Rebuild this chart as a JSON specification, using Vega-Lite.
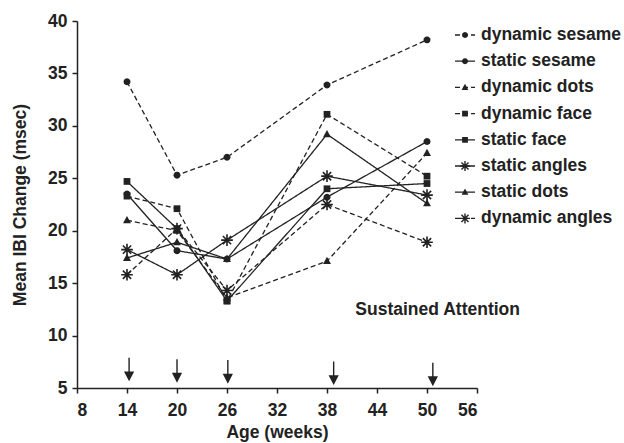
{
  "$schema": "https://vega.github.io/schema/vega-lite/v6.json",
  "width": 400,
  "height": 367,
  "autosize": {"type": "none"},
  "padding": {"left": 77, "top": 21, "right": 147, "bottom": 55},
  "background": "white",
  "config": {
    "font": "Liberation Sans",
    "view": {"stroke": null},
    "axis": {
      "grid": false,
      "domainColor": "#222",
      "domainWidth": 1.5,
      "tickColor": "#222",
      "tickWidth": 1.5,
      "tickSize": 5,
      "labelFont": "Liberation Sans",
      "labelFontWeight": "bold",
      "labelFontSize": 17.5,
      "labelColor": "#222",
      "titleFont": "Liberation Sans",
      "titleFontWeight": "bold",
      "titleFontSize": 17.5,
      "titleColor": "#222"
    }
  },
  "datasets": {
    "series": [
      {"series": "dynamic sesame", "age": 14, "ibi": 34.2},
      {"series": "dynamic sesame", "age": 20, "ibi": 25.3},
      {"series": "dynamic sesame", "age": 26, "ibi": 27.0},
      {"series": "dynamic sesame", "age": 38, "ibi": 33.9},
      {"series": "dynamic sesame", "age": 50, "ibi": 38.2},
      {"series": "static sesame", "age": 14, "ibi": 23.5},
      {"series": "static sesame", "age": 20, "ibi": 18.1},
      {"series": "static sesame", "age": 26, "ibi": 17.3},
      {"series": "static sesame", "age": 38, "ibi": 23.2},
      {"series": "static sesame", "age": 50, "ibi": 28.5},
      {"series": "dynamic dots", "age": 14, "ibi": 21.0},
      {"series": "dynamic dots", "age": 20, "ibi": 20.0},
      {"series": "dynamic dots", "age": 26, "ibi": 13.6},
      {"series": "dynamic dots", "age": 38, "ibi": 17.1},
      {"series": "dynamic dots", "age": 50, "ibi": 27.4},
      {"series": "dynamic face", "age": 14, "ibi": 23.3},
      {"series": "dynamic face", "age": 20, "ibi": 22.1},
      {"series": "dynamic face", "age": 26, "ibi": 13.3},
      {"series": "dynamic face", "age": 38, "ibi": 31.1},
      {"series": "dynamic face", "age": 50, "ibi": 25.2},
      {"series": "static face", "age": 14, "ibi": 24.7},
      {"series": "static face", "age": 20, "ibi": 20.2},
      {"series": "static face", "age": 26, "ibi": 13.3},
      {"series": "static face", "age": 38, "ibi": 24.0},
      {"series": "static face", "age": 50, "ibi": 24.5},
      {"series": "static angles", "age": 14, "ibi": 18.2},
      {"series": "static angles", "age": 20, "ibi": 15.8},
      {"series": "static angles", "age": 26, "ibi": 19.1},
      {"series": "static angles", "age": 38, "ibi": 25.2},
      {"series": "static angles", "age": 50, "ibi": 23.4},
      {"series": "static dots", "age": 14, "ibi": 17.4},
      {"series": "static dots", "age": 20, "ibi": 18.9},
      {"series": "static dots", "age": 26, "ibi": 17.3},
      {"series": "static dots", "age": 38, "ibi": 29.2},
      {"series": "static dots", "age": 50, "ibi": 22.6},
      {"series": "dynamic angles", "age": 14, "ibi": 15.8},
      {"series": "dynamic angles", "age": 20, "ibi": 20.2},
      {"series": "dynamic angles", "age": 26, "ibi": 14.3},
      {"series": "dynamic angles", "age": 38, "ibi": 22.5},
      {"series": "dynamic angles", "age": 50, "ibi": 18.9}
    ],
    "arrows": [
      {"age": 14.25, "ibi": 6.83},
      {"age": 20.0, "ibi": 6.70},
      {"age": 26.1, "ibi": 6.61},
      {"age": 38.8, "ibi": 6.47},
      {"age": 50.7, "ibi": 6.37}
    ],
    "notes": [
      {"age": 41.4, "ibi": 12.4, "label": "Sustained Attention"}
    ]
  },
  "encoding": {
    "x": {
      "field": "age",
      "type": "quantitative",
      "scale": {"domain": [8, 56], "nice": false, "zero": false},
      "axis": {
        "title": "Age (weeks)",
        "values": [8, 14, 20, 26, 32, 38, 44, 50, 56],
        "labelPadding": 8,
        "titlePadding": 5
      }
    },
    "y": {
      "field": "ibi",
      "type": "quantitative",
      "scale": {"domain": [5, 40], "nice": false, "zero": false},
      "axis": {
        "title": "Mean IBI Change (msec)",
        "values": [5, 10, 15, 20, 25, 30, 35, 40],
        "labelPadding": 5,
        "titlePadding": 18
      }
    }
  },
  "layer": [
    {
      "data": {"name": "series"},
      "mark": {"type": "line", "color": "#222", "strokeWidth": 1.3},
      "encoding": {
        "detail": {"field": "series", "type": "nominal"},
        "strokeDash": {
          "field": "series",
          "type": "nominal",
          "scale": {
            "domain": ["dynamic sesame", "static sesame", "dynamic dots", "dynamic face", "static face", "static angles", "static dots", "dynamic angles"],
            "range": [[5, 3], [1, 0], [5, 3], [5, 3], [1, 0], [1, 0], [1, 0], [5, 3]]
          },
          "legend": {
            "title": null,
            "orient": "none",
            "legendX": 377,
            "legendY": 4,
            "padding": 0,
            "zindex": 1,
            "symbolSize": 400,
            "symbolStrokeColor": "#222",
            "symbolStrokeWidth": 1.3,
            "clipHeight": 20,
            "rowPadding": 6.2,
            "labelOffset": 5,
            "labelFont": "Liberation Sans",
            "labelFontWeight": "bold",
            "labelFontSize": 17.5,
            "labelColor": "#222",
            "labelLimit": 300
          }
        }
      }
    },
    {
      "data": {"name": "series"},
      "mark": {"type": "point", "filled": true, "fill": "#222", "opacity": 1, "size": 544},
      "encoding": {
        "shape": {
          "field": "series",
          "type": "nominal",
          "sort": null,
          "scale": {
            "range": [
              "M0.3,0L0.26,0.15L0.15,0.26L0,0.3L-0.15,0.26L-0.26,0.15L-0.3,0L-0.26,-0.15L-0.15,-0.26L0,-0.3L0.15,-0.26L0.26,-0.15Z",
              "M0.3,0L0.26,0.15L0.15,0.26L0,0.3L-0.15,0.26L-0.26,0.15L-0.3,0L-0.26,-0.15L-0.15,-0.26L0,-0.3L0.15,-0.26L0.26,-0.15Z",
              "M0,-0.37L0.34,0.25L-0.34,0.25Z",
              "M-0.29,-0.29L0.29,-0.29L0.29,0.29L-0.29,0.29Z",
              "M-0.29,-0.29L0.29,-0.29L0.29,0.29L-0.29,0.29Z",
              "M-0.5,-0.07L0.5,-0.07L0.5,0.07L-0.5,0.07ZM-0.07,-0.5L0.07,-0.5L0.07,0.5L-0.07,0.5ZM-0.304,-0.403L0.403,0.304L0.304,0.403L-0.403,-0.304ZM-0.304,0.403L-0.403,0.304L0.304,-0.403L0.403,-0.304Z",
              "M0,-0.37L0.34,0.25L-0.34,0.25Z",
              "M-0.5,-0.07L0.5,-0.07L0.5,0.07L-0.5,0.07ZM-0.07,-0.5L0.07,-0.5L0.07,0.5L-0.07,0.5ZM-0.304,-0.403L0.403,0.304L0.304,0.403L-0.403,-0.304ZM-0.304,0.403L-0.403,0.304L0.304,-0.403L0.403,-0.304Z"
            ]
          },
          "legend": {
            "title": null,
            "orient": "none",
            "legendX": 377,
            "legendY": 4,
            "padding": 0,
            "zindex": 2,
            "symbolSize": 400,
            "symbolFillColor": "#222",
            "symbolStrokeWidth": 1.3,
            "clipHeight": 20,
            "rowPadding": 6.2,
            "labelOffset": 5,
            "labelFontSize": 17.5,
            "labelExpr": "''"
          }
        }
      }
    },
    {
      "data": {"name": "arrows"},
      "mark": {
        "type": "point",
        "shape": "M0,-1L0,0.3M-0.36,0.3L0.36,0.3L0,1Z",
        "size": 484,
        "filled": true,
        "fill": "#222",
        "stroke": "#222",
        "strokeWidth": 1.4,
        "opacity": 1
      }
    },
    {
      "data": {"name": "notes"},
      "mark": {
        "type": "text",
        "align": "left",
        "baseline": "middle",
        "font": "Liberation Sans",
        "fontWeight": "bold",
        "fontSize": 17.5,
        "color": "#222"
      },
      "encoding": {
        "text": {"field": "label", "type": "nominal"}
      }
    }
  ]
}
